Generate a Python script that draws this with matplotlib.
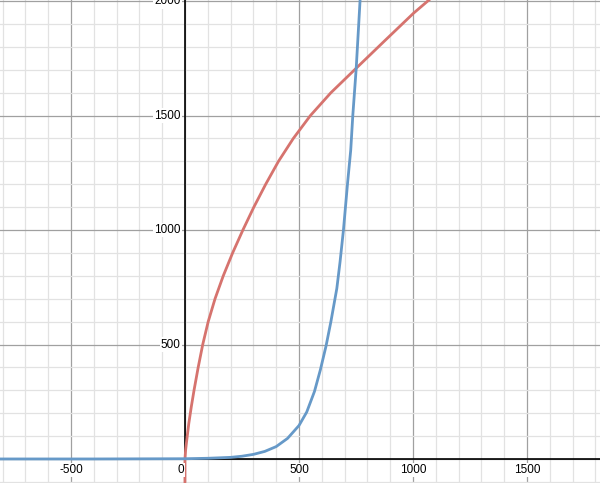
import matplotlib
matplotlib.use("Agg")
import matplotlib.pyplot as plt

plt.rcParams['font.family'] = ['Liberation Sans', 'DejaVu Sans']

# --- values ---
red_x = [0, 0, 3, 8, 17, 28, 40, 58, 78, 102, 132, 168, 209, 254, 302, 354, 410, 475,
         550, 640, 751, 875, 1002, 1070]
red_y = [-110, 0, 40, 83, 156, 229, 301, 400, 500, 600, 700, 800, 900, 1000, 1100, 1200,
         1300, 1400, 1500, 1600, 1707, 1826, 1947, 2005]

blue_x = [-820, -400, 0, 100, 200, 250, 300, 350, 400, 450, 500, 534, 568, 594, 619,
          640, 666, 680, 695, 713, 727, 736, 751, 768]
blue_y = [0, 0, 1, 3, 7, 12, 20, 33, 54, 90, 146, 205, 295, 390, 495,
          600, 745, 860, 1000, 1204, 1350, 1500, 1707, 2005]

x_ticks = [-500, 0, 500, 1000, 1500]
y_ticks = [500, 1000, 1500, 2000]

fig = plt.figure(figsize=(6, 4.83), dpi=100)
ax = fig.add_axes([0, 0, 1, 1])
ax.set_xlim(-811, 1820)
ax.set_ylim(-105, 2005)
ax.axis('off')

# grid
for gx in range(-800, 1900, 100):
    major = gx % 500 == 0
    ax.axvline(gx, color='#a0a0a0' if major else '#e2e2e2', lw=0.9, zorder=0)
for gy in range(-100, 2100, 100):
    major = gy % 500 == 0
    ax.axhline(gy, color='#a0a0a0' if major else '#e2e2e2', lw=0.9, zorder=0)

ax.axvline(0, color='black', lw=1.2, zorder=1)
ax.axhline(0, color='black', lw=1.2, zorder=1)

# curves
ax.plot(red_x, red_y, color='#d6736e', lw=2, zorder=3, solid_joinstyle='round')
ax.plot(blue_x, blue_y, color='#6699c8', lw=2, zorder=4, solid_joinstyle='round')

# tick labels
box = dict(facecolor='white', edgecolor='none', pad=1)
for t in x_ticks:
    xx = -20 if t == 0 else t
    ax.text(xx, -48, f'{t}', ha='center', va='center', fontsize=8.5, bbox=box, zorder=5)
for t in y_ticks:
    ax.text(-18, t, f'{t}', ha='right', va='center', fontsize=8.5, bbox=box, zorder=5)

fig.savefig('out.png', dpi=100)
